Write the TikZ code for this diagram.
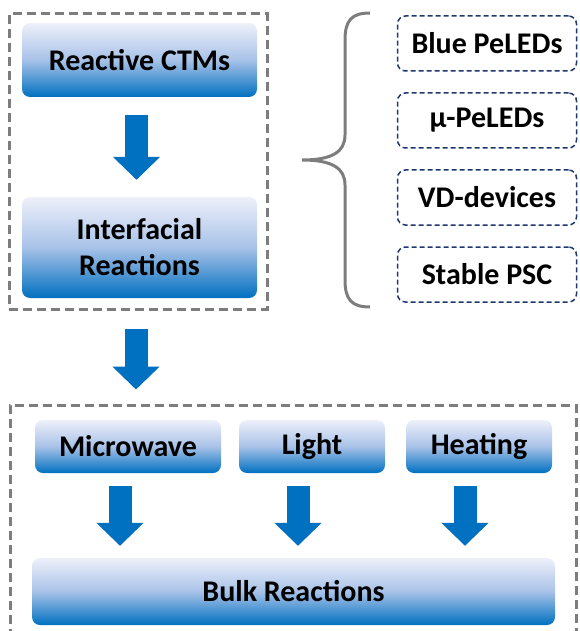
\documentclass[tikz,border=0pt]{standalone}
\usepackage{fontspec}
\setmainfont{Carlito}
\usetikzlibrary{arrows.meta,calc}

\definecolor{azul}{RGB}{0,112,192}
\definecolor{azulclaro}{RGB}{238,240,250}
\definecolor{azulmedio}{RGB}{168,194,232}
\definecolor{marino}{RGB}{31,56,110}
\definecolor{gris}{RGB}{125,125,125}

\begin{document}
\begin{tikzpicture}[x=1pt,y=-1pt]
    \tikzset{Caja/.style = {shape=rectangle,rounded corners=8pt,top color=azulclaro,bottom color=azul,middle color=azulmedio,font=\fontsize{30}{36}\selectfont\bfseries,align=center,inner sep=0pt}}
    \tikzset{Dispositivo/.style = {shape=rectangle,draw=marino,line width=1.5pt,dash pattern=on 5pt off 3pt,rounded corners=8pt,minimum width=179pt,minimum height=55pt,font=\fontsize{30}{36}\selectfont\bfseries,inner sep=0pt}}
    \tikzset{Marco/.style = {shape=rectangle,draw=gris,line width=3pt,dash pattern=on 9pt off 5pt,inner sep=0pt}}

    \tikzset{Flecha/.style = {azul,line width=23pt,-{Triangle[width=46pt,length=23pt]}}}

    \useasboundingbox (0,0) rectangle (579,631);

    % marcos
    \node[Marco,minimum width=258pt,minimum height=295pt] (MarcoA) at (138,161.5) {};
    \node[Marco,minimum width=566pt,minimum height=240pt] (MarcoB) at (293,525) {};

    \node[Caja,minimum width=235pt,minimum height=74pt] (ctm) at (139.5,60) {Reactive CTMs};
    \node[Caja,minimum width=235pt,minimum height=101pt] (inter) at (139.5,247.5) {Interfacial\\Reactions};

    \node[Dispositivo] (blue) at (487,43.5) {Blue PeLEDs};
    \node[Dispositivo] (micro) at (487,120.5) {μ-PeLEDs};
    \node[Dispositivo] (vd) at (487,197.5) {VD-devices};
    \node[Dispositivo] (psc) at (487,274.5) {Stable PSC};

    \node[Caja,minimum width=186pt,minimum height=53pt] (mw) at (128,446.5) {Microwave};
    \node[Caja,minimum width=146pt,minimum height=53pt] (light) at (312,446.5) {Light};
    \node[Caja,minimum width=146pt,minimum height=53pt] (heat) at (479,446.5) {Heating};
    \node[Caja,minimum width=523pt,minimum height=67pt] (bulk) at (293.5,591.5) {Bulk Reactions};

    %Llave hacia los dispositivos
    \draw[gris,line width=3pt] (370,13) .. controls (352,13) and (345,20) .. (345,40)
        -- (345,135) .. controls (345,152) and (332,160) .. (302,160)
        .. controls (332,160) and (345,168) .. (345,185)
        -- (345,280) .. controls (345,300) and (352,307) .. (370,307);

    %Flechas
    \draw[Flecha] ($(ctm.south)+(-3,18)$) -- ($(inter.north)+(-3,-17)$);
    \draw[Flecha] ($(MarcoA.south)+(-2,18)$) -- ($(MarcoA.south |- MarcoB.north)+(-2,-14)$);

    \foreach \n/\dx in {mw/-8,light/-14,heat/-14}
        \draw[Flecha] ($(\n.south)+(\dx,13)$) -- ($(\n.south |- bulk.north)+(\dx,-12)$);

\end{tikzpicture}
\end{document}
